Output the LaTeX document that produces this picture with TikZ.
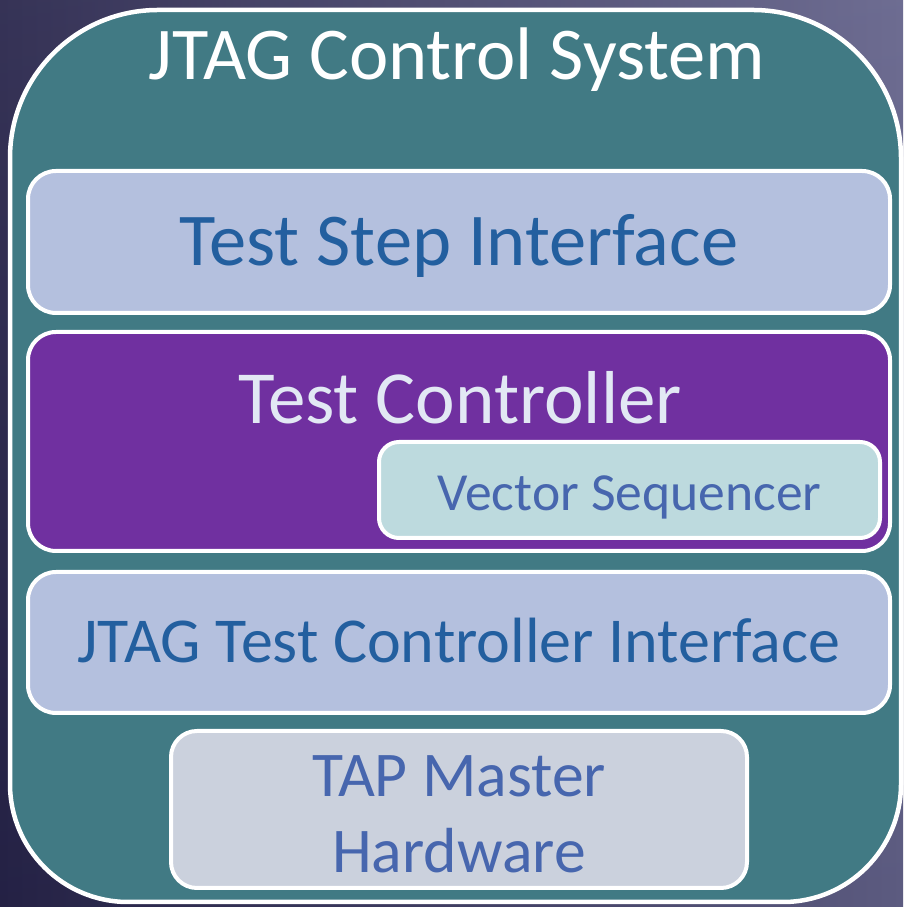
\documentclass[tikz,border=0pt]{standalone}
\usepackage{fontspec}
\setmainfont{Carlito}
\definecolor{bgL}{HTML}{27244A}
\definecolor{bgR}{HTML}{63628A}
\definecolor{teal}{HTML}{417A84}
\definecolor{paleblue}{HTML}{B4C0DE}
\definecolor{deepblue}{HTML}{235F9F}
\definecolor{purp}{HTML}{7030A0}
\definecolor{lilac}{HTML}{E2E8F4}
\definecolor{paleaqua}{HTML}{BDDADE}
\definecolor{softblue}{HTML}{4766AE}
\definecolor{palegrey}{HTML}{CBD1DD}
\tikzset{
  layer/.style={draw=white, line width=4pt, rounded corners=28pt, inner sep=0pt},
  % text box as tall as the capitals, so capitals sit centred in the box
  capline/.style={text height=#1, text depth=0pt},
}
\begin{document}
\begin{tikzpicture}[x=1pt, y=1pt]
  \useasboundingbox (0,0) rectangle (903,907);
  % backdrop: dark on the left, lighter to the right, a little lighter at the top
  \shade[left color=bgL, right color=bgR] (0,0) rectangle (903,907);
  \shade[top color=white, bottom color=black, opacity=0.07] (0,0) rectangle (903,907);
  % outer system frame
  \draw[draw=white, line width=4.5pt, fill=teal]
    (10,123) -- (10,749) arc[start angle=180, end angle=90, radius=148]
    -- (753,897) arc[start angle=90, end angle=0, radius=148]
    -- (901,123) arc[start angle=0, end angle=-90, radius=118]
    -- (128,5) arc[start angle=270, end angle=180, radius=118] -- cycle;
  \node[anchor=base, text=white, font=\fontsize{74.5}{88}\selectfont] (title) at (457,827) {JTAG Control System};

  % layers
  \node[layer, fill=paleblue, minimum width=862pt, minimum height=142pt, capline=47pt,
        text=deepblue, font=\fontsize{74.5}{88}\selectfont] (tsi) at (459,665) {Test Step Interface};
  \node[layer, fill=purp, minimum width=862pt, minimum height=219pt] (tc) at (459,465.5) {};
  \node[anchor=base, text=lilac, font=\fontsize{75}{88}\selectfont] (tclabel) at (460,483) {Test Controller};
  \node[layer, rounded corners=20pt, fill=paleaqua, minimum width=501pt, minimum height=96pt, capline=41pt,
        text=softblue, font=\fontsize{53.6}{64}\selectfont] (vs) at (629.5,417) {Vector Sequencer};
  \node[layer, fill=paleblue, minimum width=862pt, minimum height=141pt, capline=40.5pt,
        text=deepblue, font=\fontsize{64}{76}\selectfont] (jtci) at (459,264.5) {JTAG Test Controller Interface};
  \node[layer, rounded corners=26pt, fill=palegrey, minimum width=576pt, minimum height=157pt] (tap) at (459,97.5) {};
  \node[anchor=base, text=softblue, font=\fontsize{63.7}{76}\selectfont] (tap1) at (459,110) {TAP Master};
  \node[anchor=base, text=softblue, font=\fontsize{63.7}{76}\selectfont] (tap2) at (459,34) {Hardware};
\end{tikzpicture}
\end{document}
